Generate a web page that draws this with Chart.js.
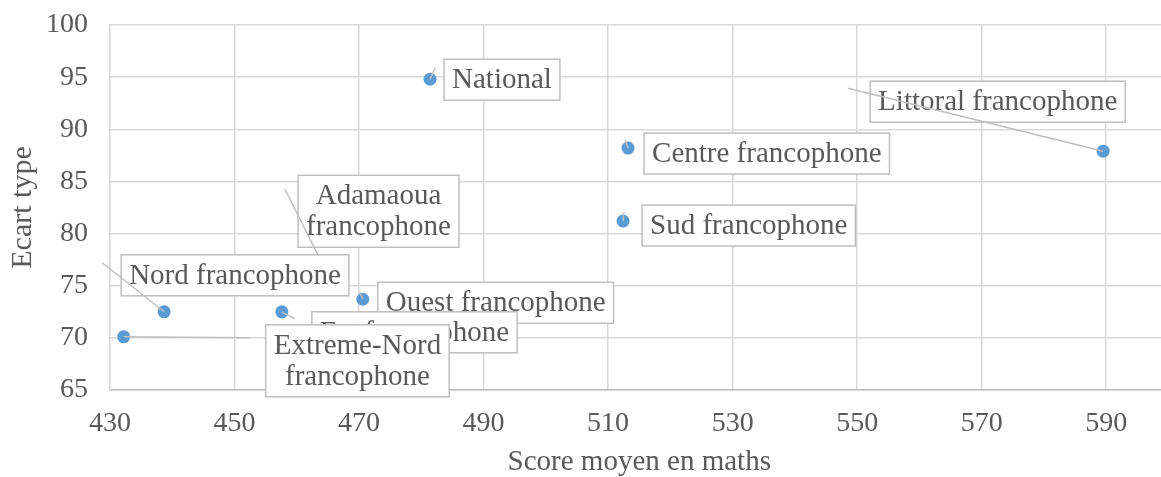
<!DOCTYPE html>
<html>
<head>
<meta charset="utf-8">
<title>Score moyen en maths / Ecart type</title>
<script src="https://cdn.jsdelivr.net/npm/chart.js"></script>
<style>
  html, body { margin: 0; padding: 0; overflow: hidden; background: #fff; }
  #wrap { width: 1175px; height: 477px; }
</style>
</head>
<body>
<div id="wrap"><canvas id="myChart"></canvas></div>
<script>
// data
const regions = ['National', 'Centre francophone', 'Sud francophone', 'Littoral francophone',
  'Adamaoua francophone', 'Nord francophone', 'Ouest francophone', 'Est francophone',
  'Extreme-Nord francophone'];
const scoreMaths = [481.4, 513.2, 512.4, 589.5, 465.5, 438.7, 470.6, 457.6, 432.2];
const ecartType = [94.8, 88.2, 81.2, 87.9, 76.0, 72.5, 73.7, 72.5, 70.1];
const xTicks = [430, 450, 470, 490, 510, 530, 550, 570, 590];
const yTicks = [65, 70, 75, 80, 85, 90, 95, 100];

// label placement in pixels, relative to the point (box corner, leader start/end)
const labelLayout = [
  { box: [14, -20], lead: [[5, -11], [0, 0]] },
  { box: [16, -15], lead: [[-3, -8], [0, 0]] },
  { box: [19, -16], lead: [[1, -9], [0, 0]] },
  { box: [-233, -70], lead: [[-255, -63], [0, 0]] },
  { box: [-33, -100], lead: [[-46, -86], [-13, -20]], wrap: true },
  { box: [-43, -57], lead: [[-62, -49], [0, 0]] },
  { box: [15, -17], lead: [[-3, -7], [0, 0]] },
  { box: [30, 0], lead: [[0, 0], [13, 7]] },
  { box: [142, -12], lead: [[0, 0], [126, 1]], wrap: true }
];

const FONT = "'Liberation Serif', 'Times New Roman', serif";
const TXT = '#595959';

const boxLabels = {
  id: 'boxLabels',
  afterDatasetsDraw(chart) {
    const ctx = chart.ctx;
    const meta = chart.getDatasetMeta(0);
    const lineH = 31, padX = 8, padY = 5;
    ctx.save();
    ctx.font = '29px ' + FONT;
    meta.data.forEach((pt, i) => {
      const lay = labelLayout[i];
      const lines = lay.wrap ? regions[i].split(' ') : [regions[i]];
      const w = Math.max(...lines.map(l => ctx.measureText(l).width)) + padX * 2;
      const h = lines.length * lineH + padY * 2;
      const bx = pt.x + lay.box[0], by = pt.y + lay.box[1];
      ctx.fillStyle = '#fff';
      ctx.fillRect(bx, by, w, h);
      ctx.strokeStyle = '#BFBFBF';
      ctx.lineWidth = 1.5;
      ctx.strokeRect(bx, by, w, h);
      ctx.fillStyle = TXT;
      ctx.textAlign = 'center';
      ctx.textBaseline = 'middle';
      lines.forEach((l, k) => ctx.fillText(l, bx + w / 2, by + padY + lineH * k + lineH / 2 + 1));
    });
    // leader lines sit on top of the boxes
    ctx.strokeStyle = '#BFBFBF';
    ctx.lineWidth = 1.5;
    meta.data.forEach((pt, i) => {
      const [a, b] = labelLayout[i].lead;
      ctx.beginPath();
      ctx.moveTo(pt.x + a[0], pt.y + a[1]);
      ctx.lineTo(pt.x + b[0], pt.y + b[1]);
      ctx.stroke();
    });
    ctx.restore();
  }
};

new Chart(document.getElementById('myChart'), {
  type: 'scatter',
  data: {
    datasets: [{
      data: scoreMaths.map((x, i) => ({ x: x, y: ecartType[i] })),
      backgroundColor: '#5B9BD5',
      borderWidth: 0,
      pointRadius: 6.5
    }]
  },
  options: {
    responsive: true,
    maintainAspectRatio: false,
    animation: false,
    layout: { padding: { top: 25, right: 2, left: 0, bottom: 0 } },
    plugins: { legend: { display: false }, tooltip: { enabled: false } },
    scales: {
      x: {
        type: 'linear',
        min: 430,
        max: 600,
        afterBuildTicks: s => { s.ticks = xTicks.map(v => ({ value: v })); },
        afterFit: s => { s.height = 87; s.paddingLeft = 0; s.paddingRight = 0; },
        grid: { color: '#D9D9D9', lineWidth: 1.5, drawTicks: false },
        border: { color: '#BFBFBF', width: 1.5 },
        ticks: { color: TXT, padding: 17, font: { family: FONT, size: 28 }, maxRotation: 0 },
        title: {
          display: true, text: 'Score moyen en maths', color: TXT,
          font: { family: FONT, size: 29, lineHeight: 1 }, padding: { top: 0, bottom: 0 }
        }
      },
      y: {
        min: 65,
        max: 100,
        afterBuildTicks: s => { s.ticks = yTicks.map(v => ({ value: v })); },
        afterFit: s => { s.width = 110; s.paddingTop = 0; s.paddingBottom = 0; },
        grid: { color: '#D9D9D9', lineWidth: 1.5, drawTicks: false },
        border: { color: '#D9D9D9', width: 1.5 },
        ticks: { color: TXT, padding: 22, font: { family: FONT, size: 28 } },
        title: {
          display: true, text: 'Ecart type', color: TXT,
          font: { family: FONT, size: 30, lineHeight: 1.2 }, padding: { top: 5, bottom: 0 }
        }
      }
    }
  },
  plugins: [boxLabels]
});
</script>
</body>
</html>
